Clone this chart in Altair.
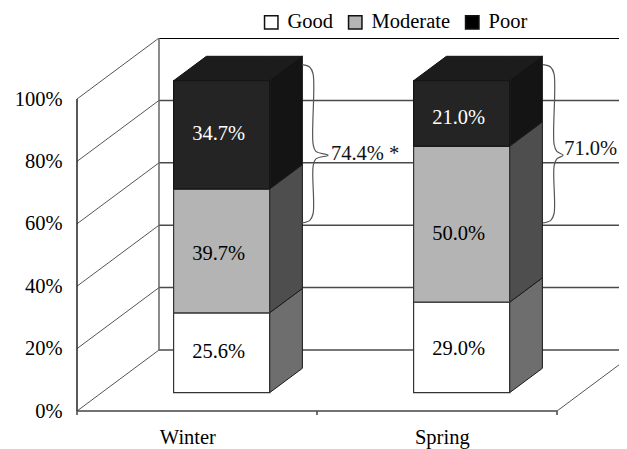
import altair as alt
import pandas as pd

seasons = ["Winter", "Spring"]
levels = ["Good", "Moderate", "Poor"]
good = [25.6, 29.0]
moderate = [39.7, 50.0]
poor = [34.7, 21.0]
label_heights = {"Winter": [13.0, 44.4, 82.9], "Spring": [14.0, 51.0, 88.0]}
pct_ticks = [0, 20, 40, 60, 80, 100]
cat_ticks = [0, 1, 2]
side_colors = ["#6e6e6e", "#4e4e4e", "#141414"]
front_colors = ["#ffffff", "#b4b4b4", "#000000"]
brace_notes = [("74.4% *", 1.058, 82.5), ("71.0%", 2.03, 84.0)]
brace_starts = [0.938, 1.942]

PLOT_W, PLOT_H = 542, 373
PX_X, PX_Y = 240.0, 3.12
DX, DY = 82 / PX_X, 61 / PX_Y
D0, D1 = 0.3, 0.7
LIFT = D0 * DY
FONT = "Liberation Serif"
FS = 20.5

xs = alt.Scale(domain=[0, PLOT_W / PX_X], nice=False, zero=False)
ys = alt.Scale(domain=[0, PLOT_H / PX_Y], nice=False, zero=False)
x_axis = alt.Axis(
    values=[0.46, 1.52], labelExpr="datum.value < 1 ? 'Winter' : 'Spring'",
    grid=False, domain=False, ticks=False, labelPadding=16,
    labelFont=FONT, labelFontSize=FS, labelColor="#000", labelAngle=0)
y_axis = alt.Axis(
    values=pct_ticks, labelExpr="datum.value + '%'", grid=False, domain=False,
    ticks=False, labelPadding=15, labelFont=FONT, labelFontSize=FS, labelColor="#000")
X = alt.X("x:Q", scale=xs, title=None, axis=x_axis)
Y = alt.Y("y:Q", scale=ys, title=None, axis=y_axis)

# ---- bar faces
front, sides, tops, labels = [], [], [], []
sd = D1 - D0
for i, s in enumerate(seasons):
    x0 = i + 0.3 + D0 * DX
    x1 = i + 0.7 + D0 * DX
    run = 0.0
    vals = [good[i], moderate[i], poor[i]]
    for j, lev in enumerate(levels):
        lo, hi = run + LIFT, run + vals[j] + LIFT
        front.append(dict(level=lev, x=x0, x2=x1, y=lo, y2=hi))
        key = f"{s}-{lev}"
        sides.append(dict(k=key, j=j, x=x1, y=lo, y2=hi))
        sides.append(dict(k=key, j=j, x=x1 + sd * DX, y=lo + sd * DY, y2=hi + sd * DY))
        labels.append(dict(level=lev, x=(x0 + x1) / 2 - 3 / PX_X,
                           y=label_heights[s][j] + LIFT, t=f"{vals[j]:.1f}%"))
        run += vals[j]
    top = run + LIFT
    for px, a, b in [(x0, top, top), (x0 + sd * DX, top, top + sd * DY),
                     (x1, top, top + sd * DY), (x1 + sd * DX, top + sd * DY, top + sd * DY)]:
        tops.append(dict(k=s, x=px, y=a, y2=b))

front = pd.DataFrame(front)
sides = pd.DataFrame(sides)
tops = pd.DataFrame(tops)
labels = pd.DataFrame(labels)

# ---- walls
diag, back = [], []
for p in pct_ticks:
    diag += [dict(k=p, o=0, x=0, y=p), dict(k=p, o=1, x=DX, y=p + DY)]
    if p < 100:
        back += [dict(k=p, o=0, x=DX, y=p + DY), dict(k=p, o=1, x=DX + 2, y=p + DY)]
diag = pd.DataFrame(diag)
back = pd.DataFrame(back)
top_line = pd.DataFrame([dict(k=0, o=0, x=DX, y=100 + DY), dict(k=0, o=1, x=DX + 2, y=100 + DY)])
back_v = pd.DataFrame([dict(x=DX, y=DY, y2=100 + DY)])
front_v = pd.DataFrame([dict(x=0, y=0, y2=100)])
floor_f = pd.DataFrame([dict(x=0, x2=2, y=0)])
floor_r = pd.DataFrame([dict(k=0, o=0, x=2, y=0), dict(k=0, o=1, x=2 + DX, y=DY)])
ticks = pd.DataFrame([dict(x=t, y=0, y2=-1.3) for t in cat_ticks])

# ---- braces
brace_rows = []
for b, x in enumerate(brace_starts):
    w = 11 / PX_X
    tip = (26 if b == 0 else 20) / PX_X
    ctop, cbot, cm = 111.0, 60.3, 82.0
    pts = [(0, ctop), (w * 0.7, ctop - 0.8), (w, ctop - 3), (w, cm + 3.5),
           (w * 1.25, cm + 1.2), (tip, cm), (w * 1.25, cm - 1.2), (w, cm - 3.5),
           (w, cbot + 3), (w * 0.7, cbot + 0.8), (0, cbot)]
    for o, (dx, y) in enumerate(pts):
        brace_rows.append(dict(k=b, o=o, x=x + dx, y=y))
braces = pd.DataFrame(brace_rows)
notes = pd.DataFrame([dict(t=t, x=x, y=y) for t, x, y in brace_notes])


def lines(df, color, width=1.0):
    return alt.Chart(df).mark_line(color=color, strokeWidth=width, clip=True).encode(
        x=X, y=Y, detail="k:N", order="o:Q")


def text_layer(df, color, align="center"):
    return alt.Chart(df).mark_text(font=FONT, fontSize=FS, color=color, align=align,
                                   baseline="middle").encode(x=X, y=Y, text="t:N")


side_layers = [
    alt.Chart(sides[sides.j == j]).mark_area(
        color=side_colors[j], stroke="#1a1a1a", strokeWidth=1).encode(
        x=X, y=Y, y2="y2:Q", detail="k:N")
    for j in range(3)
]
top_layer = alt.Chart(tops).mark_area(color="#1c1c1c", stroke="#111", strokeWidth=1).encode(
    x=X, y=Y, y2="y2:Q", detail="k:N")
front_layer = alt.Chart(front).mark_rect(stroke="#333", strokeWidth=1.2).encode(
    x=X, x2="x2:Q", y=Y, y2="y2:Q",
    color=alt.Color("level:N", scale=alt.Scale(domain=levels, range=front_colors),
                    legend=alt.Legend(
                        title=None, orient="none", legendX=184, legendY=-26,
                        direction="horizontal", columns=3, columnPadding=11,
                        symbolType="square", symbolSize=180, symbolStrokeColor="#111",
                        symbolStrokeWidth=1.5, labelFont=FONT, labelFontSize=FS,
                        labelColor="#000", labelOffset=6, padding=0)),
)
poor_front = alt.Chart(front[front.level == "Poor"]).mark_rect(
    color="#242424", stroke="#111", strokeWidth=1).encode(x=X, x2="x2:Q", y=Y, y2="y2:Q")

chart = alt.layer(
    lines(diag, "#555555", 1.0),
    lines(back, "#4a4a4a", 1.5),
    lines(top_line, "#000000", 2.0),
    alt.Chart(back_v).mark_rule(color="#666666", strokeWidth=1.5).encode(x=X, y=Y, y2="y2:Q"),
    alt.Chart(front_v).mark_rule(color="#222222", strokeWidth=1.5).encode(x=X, y=Y, y2="y2:Q"),
    alt.Chart(floor_f).mark_rule(color="#444444", strokeWidth=1.5).encode(x=X, x2="x2:Q", y=Y),
    alt.Chart(ticks).mark_rule(color="#444444", strokeWidth=1.5).encode(x=X, y=Y, y2="y2:Q"),
    lines(floor_r, "#555555", 1.0),
    *side_layers,
    top_layer,
    front_layer,
    poor_front,
    alt.Chart(braces).mark_line(color="#555555", strokeWidth=1.2, interpolate="catmull-rom").encode(
        x=X, y=Y, detail="k:N", order="o:Q"),
    text_layer(labels[labels.level != "Poor"], "#000000"),
    text_layer(labels[labels.level == "Poor"], "#ffffff"),
    text_layer(notes, "#111111", "left"),
).properties(
    width=PLOT_W, height=PLOT_H,
    padding={"left": 69, "top": 30, "right": 0, "bottom": 38},
    autosize=alt.AutoSizeParams(type="none", contains="content"),
).configure_view(stroke=None)

chart.save("out.html", embed_options={"renderer": "svg", "actions": False})
